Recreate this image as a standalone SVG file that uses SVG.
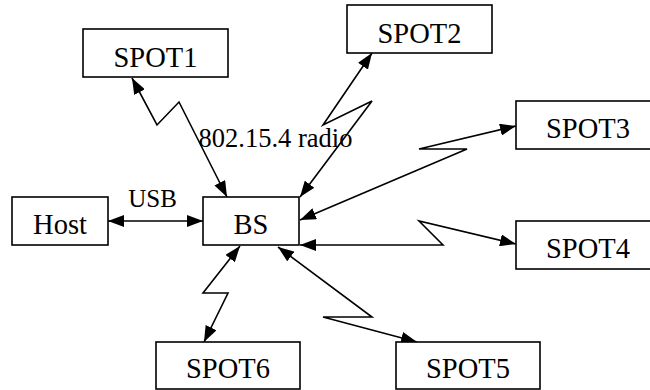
<svg xmlns="http://www.w3.org/2000/svg" width="650" height="390" viewBox="0 0 650 390">
<defs>
<marker id="ah" viewBox="0 0 16 12" refX="16" refY="6" markerWidth="16" markerHeight="12" markerUnits="userSpaceOnUse" orient="auto-start-reverse">
<path d="M0,0 L16,6 L0,12 z" fill="#000"/>
</marker>
<style>
.box{fill:#fff;stroke:#000;stroke-width:1.6}
.lbl{font-family:"Liberation Serif","Times New Roman",serif;font-size:28.5px;text-anchor:middle;fill:#000}
.elbl{font-family:"Liberation Serif","Times New Roman",serif;text-anchor:middle;fill:#000}
.conn{fill:none;stroke:#000;stroke-width:1.6;marker-start:url(#ah);marker-end:url(#ah)}
</style>
</defs>
<rect width="650" height="390" fill="#fff"/>
<g id="connectors">
<path class="conn" d="M108,221 L203,221"/>
<path class="conn" d="M132,78 L157,125 L179,102 L227,197"/>
<path class="conn" d="M372,53 L323,125 L372,101 L300,197"/>
<path class="conn" d="M516,126 L419,149 L467,149 L300,220"/>
<path class="conn" d="M516,244 L419,221 L443,245 L300,245"/>
<path class="conn" d="M417,342 L323,317 L372,317 L278,247"/>
<path class="conn" d="M204,342 L228,293 L203,293 L240,246"/>
<text class="elbl" x="152.5" y="207" font-size="25">USB</text>
<text class="elbl" x="275.5" y="147" font-size="26.5">802.15.4 radio</text>
</g>
<g id="host"><rect class="box" x="12" y="197" width="96" height="48"/><text class="lbl" x="60" y="234">Host</text></g>
<g id="bs"><rect class="box" x="203" y="197" width="96" height="48"/><text class="lbl" x="251" y="234">BS</text></g>
<g id="spot1"><rect class="box" x="83" y="29" width="145" height="48"/><text class="lbl" x="155.5" y="66.5">SPOT1</text></g>
<g id="spot2"><rect class="box" x="347" y="5" width="145" height="48"/><text class="lbl" x="419.5" y="43">SPOT2</text></g>
<g id="spot3"><rect class="box" x="516" y="101" width="145" height="48"/><text class="lbl" x="588" y="138">SPOT3</text></g>
<g id="spot4"><rect class="box" x="516" y="221" width="145" height="48"/><text class="lbl" x="588" y="258">SPOT4</text></g>
<g id="spot5"><rect class="box" x="396" y="342" width="144" height="47"/><text class="lbl" x="468" y="378">SPOT5</text></g>
<g id="spot6"><rect class="box" x="156" y="342" width="144" height="47"/><text class="lbl" x="228" y="378">SPOT6</text></g>
</svg>
